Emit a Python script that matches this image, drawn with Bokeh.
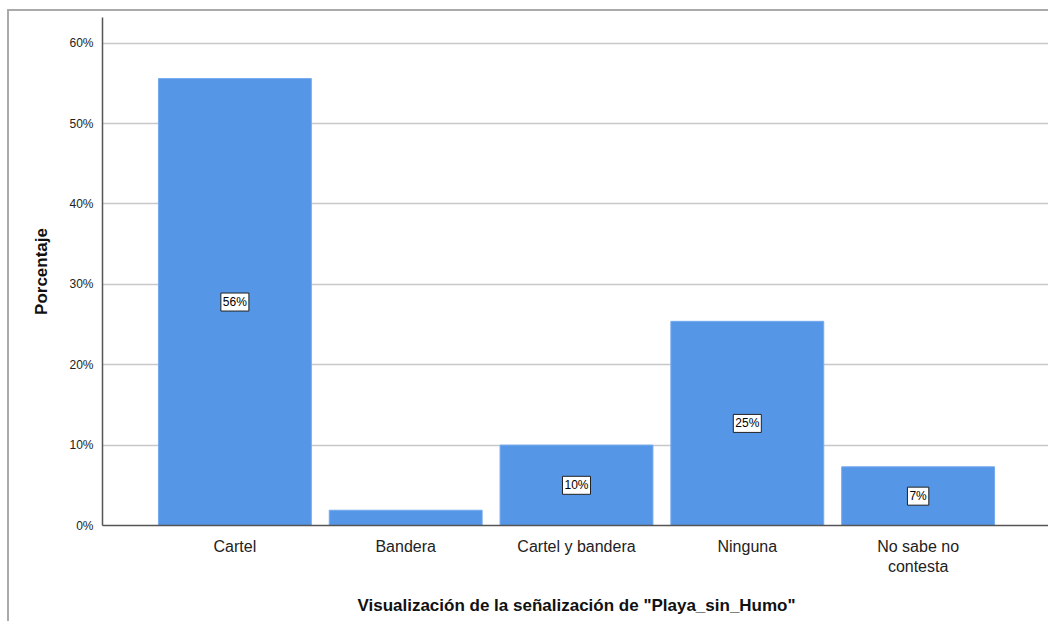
from bokeh.plotting import figure
from bokeh.models import ColumnDataSource, Label, FixedTicker, PrintfTickFormatter, Range1d
from bokeh.embed import file_html
from bokeh.resources import INLINE

categories = ["Cartel", "Bandera", "Cartel y bandera", "Ninguna", "No sabe no\ncontesta"]
percentages = [55.6, 1.9, 10.0, 25.4, 7.3]
bar_labels = ["56%", "", "10%", "25%", "7%"]
y_ticks = [0, 10, 20, 30, 40, 50, 60]

xs = list(range(len(categories)))
src = ColumnDataSource(dict(x=xs, top=percentages))

p = figure(width=1041, height=612, output_backend="svg", toolbar_location=None,
           x_range=Range1d(-0.775, len(categories) - 1 + 0.775), y_range=Range1d(0, 63.2),
           min_border_left=93, min_border_top=6, min_border_right=0, min_border_bottom=98)
p.styles = {"border-top": "2px solid #aaaaaa", "border-left": "2px solid #aaaaaa",
            "margin-left": "7px", "margin-top": "9px"}
p.outline_line_color = None

p.vbar(x="x", top="top", width=0.895, bottom=0, source=src, fill_color="#5596e6", line_color="#74aaee", line_width=1)

for x, v, l in zip(xs, percentages, bar_labels):
    if not l:
        continue
    p.add_layout(Label(x=x, y=v / 2, text=l, text_align="center", text_baseline="middle",
                       text_font="Liberation Sans", text_font_size="12px", text_color="#000000",
                       background_fill_color="white", border_line_color="#222222", border_line_width=1,
                       padding=2))

p.xaxis.ticker = FixedTicker(ticks=xs)
p.xaxis.major_label_overrides = {i: c for i, c in enumerate(categories)}
p.xaxis.major_tick_line_color = None
p.xaxis.minor_tick_line_color = None
p.xaxis.major_label_text_font = "Liberation Sans"
p.xaxis.major_label_text_font_size = "16px"
p.xaxis.major_label_text_color = "#222222"
p.xaxis.major_label_standoff = 6
p.xaxis.axis_line_color = "#555555"
p.xaxis.axis_line_width = 1.5
p.xaxis.axis_label = 'Visualización de la señalización de "Playa_sin_Humo"'
p.xaxis.axis_label_text_font = "Liberation Sans"
p.xaxis.axis_label_text_font_style = "bold"
p.xaxis.axis_label_text_font_size = "17px"
p.xaxis.axis_label_text_color = "#111111"
p.xaxis.axis_label_standoff = 18

p.yaxis.ticker = FixedTicker(ticks=y_ticks)
p.yaxis.formatter = PrintfTickFormatter(format="%d%%")
p.yaxis.major_tick_line_color = None
p.yaxis.minor_tick_line_color = None
p.yaxis.major_label_text_font = "Liberation Sans"
p.yaxis.major_label_text_font_size = "12px"
p.yaxis.major_label_text_color = "#222222"
p.yaxis.major_label_standoff = 3
p.yaxis.axis_line_color = "#555555"
p.yaxis.axis_line_width = 1.5
p.yaxis.axis_label = "Porcentaje"
p.yaxis.axis_label_text_font = "Liberation Sans"
p.yaxis.axis_label_text_font_style = "bold"
p.yaxis.axis_label_text_font_size = "17px"
p.yaxis.axis_label_text_color = "#111111"
p.yaxis.axis_label_standoff = 15

p.xgrid.grid_line_color = None
p.ygrid.ticker = FixedTicker(ticks=y_ticks[1:])
p.ygrid.grid_line_color = "#c8c8c8"
p.ygrid.grid_line_width = 1.5

open("out.html", "w").write(file_html(p, INLINE))
